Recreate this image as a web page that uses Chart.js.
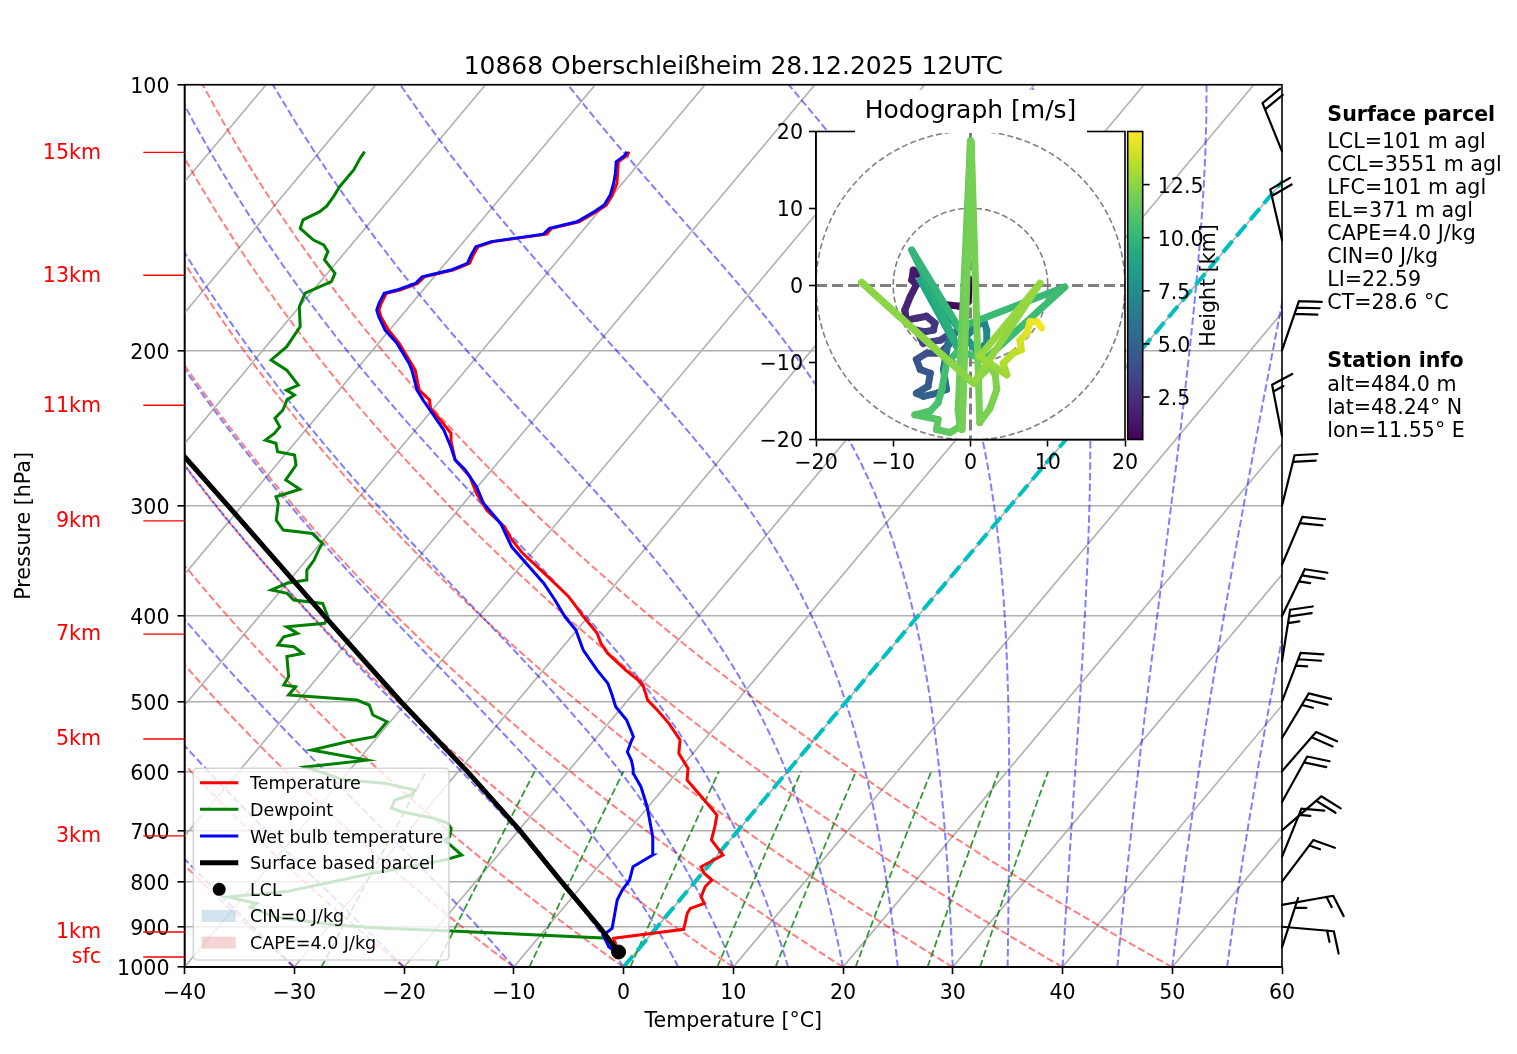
<!DOCTYPE html>
<html>
<head>
<meta charset="utf-8">
<title>Skew-T 10868</title>
<script src="https://cdn.jsdelivr.net/npm/chart.js@4.4.1/dist/chart.umd.min.js"></script>
<style>
  html, body { margin: 0; padding: 0; background: #fff; }
  #wrap { position: relative; width: 1517px; height: 1054px; }
  #wrap canvas { position: absolute; left: 0; top: 0; }
</style>
</head>
<body>
<div id="wrap">
  <canvas id="skewt" width="1517" height="1054"></canvas>
  <canvas id="hodo" width="1517" height="1054"></canvas>
</div>
<script>
// ---- sounding values ----
const tempPressure = [969, 927.6, 917, 906.1, 869, 858, 846.9, 832.5, 810.9, 796.9,
  783.1, 769.7, 746.4, 717.8, 693.4, 672.6, 646.7, 613.8, 595.5, 572.4,
  552.9, 529.3, 513.5, 498.2, 481.2, 472.9, 460.7, 441.1, 429.6, 418.6,
  400.9, 380.4, 370.6, 357.9, 339.7, 328.1, 316.9, 303.4, 290.4, 278,
  266.2, 254.9, 248.4, 239.9, 232.6, 227.7, 221.9, 210.6, 206.8, 196.4,
  189.7, 183.2, 180, 176.9, 172.3, 170.9, 168, 165.1, 162.2, 159.4,
  156, 152.6, 150.6, 147.7, 145.5, 143, 139.3, 136.9, 133.4, 129.3,
  126, 122.3, 120.2, 119.1];
const tempValues = [-1.3, -3.1, -0.4, 2.6, 1.7, 1.6, 2.5, 1.7, 1.3, 1.4,
  0.2, -0.6, 0.5, -1.7, -2.4, -3.1, -5.4, -8.5, -9.3, -11.3,
  -12.2, -14.5, -16.3, -18.2, -19.6, -20.6, -22.5, -25.4, -26.8, -27.9,
  -30.4, -33.3, -35.0, -37.3, -40.8, -42.8, -44.5, -47.4, -49.6, -51.5,
  -54.1, -55.7, -56.5, -58.5, -60.3, -61.0, -62.7, -64.6, -65.5, -68.1,
  -70.1, -71.8, -72.5, -72.8, -73.1, -72.1, -71.0, -70.9, -68.8, -67.8,
  -68.1, -68.3, -67.3, -63.0, -63.0, -61.0, -60.2, -59.8, -60.0, -60.5,
  -61.2, -62.0, -61.7, -61.8];

const dewPressure = [969, 927.6, 910.2, 903.8, 896, 877.5, 855.1, 846.9, 832.5, 821.7,
  803.9, 783.1, 766.3, 756.4, 746.4, 717.8, 711.6, 696.3, 687.2, 678.3,
  666.7, 660.7, 646.7, 638.3, 630.1, 619.1, 613.8, 593.3, 582.7, 567.5,
  555.4, 548.2, 527.1, 518, 504.6, 498.2, 491.7, 481.2, 479.1, 468.8,
  444.7, 441.1, 433.5, 431.5, 422.3, 418.6, 411.4, 407.8, 400.9, 387.1,
  383.7, 377.1, 373.8, 367.3, 364.2, 354.8, 345.7, 335.4, 331, 328.1,
  322.5, 319.7, 311.5, 298.1, 293.1, 287.4, 280.5, 269.8, 262.9, 260.6,
  254.9, 252.8, 248.4, 244.2, 238.8, 233.7, 227.7, 224.7, 221.9, 219,
  210.6, 205.1, 198.1, 188, 178.5, 172.3, 167.2, 163.6, 157.9, 154.6,
  151.9, 150, 145.5, 142.3, 139.3, 137.3, 133.9, 130.5, 124.9, 121.2,
  119.1];
const dewValues = [-1.5, -3.6, -18.4, -24.7, -29.5, -35.6, -38.6, -38.3, -41.4, -36.6,
  -33.6, -30.1, -26.5, -24.5, -23.3, -26.0, -25.8, -26.3, -27.0, -28.6,
  -32.1, -33.3, -33.6, -32.5, -32.5, -35.8, -39.7, -44.3, -39.2, -45.0,
  -42.4, -40.3, -40.3, -42.1, -43.2, -44.7, -51.3, -51.3, -52.5, -52.7,
  -54.4, -53.2, -54.5, -56.1, -56.2, -55.2, -56.7, -53.5, -53.7, -55.2,
  -58.1, -59.2, -60.9, -60.0, -58.5, -59.2, -59.3, -59.7, -59.8, -60.4,
  -61.5, -64.4, -65.8, -66.9, -67.6, -66.0, -68.0, -68.2, -69.1, -70.9,
  -71.7, -72.9, -72.6, -72.6, -73.7, -73.6, -74.0, -73.7, -74.8, -74.1,
  -76.3, -78.5, -78.1, -78.4, -80.0, -80.5, -79.0, -79.3, -81.3, -81.6,
  -82.5, -83.8, -85.9, -86.3, -85.4, -85.2, -85.3, -85.5, -85.5, -85.8,
  -85.9];

const wetPressure = [969, 948.2, 919.7, 903.8, 884.3, 839.4, 818, 796.9, 769.7, 746.4,
  711.6, 658, 624.5, 603.3, 595.5, 582.7, 570.2, 552.9, 548.2, 524.8,
  507, 489.6, 477, 460.7, 437.2, 415, 400.9, 383.7, 367.3, 348.8,
  334, 314.2, 298.1, 285.5, 273.3, 266.2, 257.2, 246.3, 227.7, 221.9,
  210.6, 206.8, 196.4, 189.7, 183.2, 180, 176.9, 172.3, 170.9, 168,
  165.1, 162.2, 159.4, 156, 152.6, 150.6, 147.7, 145.5, 143, 139.3,
  136.9, 133.4, 129.3, 126, 122.3, 120.2, 119.1];
const wetValues = [-1.3, -2.9, -4.3, -4.0, -4.5, -5.7, -6.0, -6.1, -6.8, -5.9,
  -7.3, -10.1, -12.2, -13.9, -14.3, -15.1, -16.1, -16.6, -16.7, -18.6,
  -20.6, -22.0, -23.1, -25.1, -27.9, -30.1, -32.1, -34.3, -36.6, -39.7,
  -42.3, -45.1, -48.2, -50.1, -52.4, -54.1, -55.5, -57.4, -61.6, -62.9,
  -64.9, -65.7, -68.3, -70.4, -72.0, -72.7, -73.0, -73.3, -72.4, -71.2,
  -71.1, -69.0, -68.0, -68.3, -68.5, -67.5, -63.3, -63.2, -61.2, -60.4,
  -60.0, -60.2, -60.8, -61.4, -62.2, -61.9, -62.0];

const parcelPressure = [969, 961.4, 900, 800, 700, 600, 500, 400, 300, 264, 230];
const parcelValues = [-1.1, -1.6, -5.3, -12.2, -19.9, -29.2, -40.6, -54.1, -71.3, -79.0, -87.3];
const lclPressure = [961.4];
const lclValues = [-1.6];

// wind barbs (knots, direction wind comes from)
const windPressure = [119, 150, 200, 250, 300, 350, 400, 450, 500, 550, 600, 650, 700, 750, 800, 850, 900, 950];
const windDir = [338, 347, 19, 349, 14, 23, 26, 9, 21, 31, 41, 29, 49, 22, 37, 80, 95, 18];
const windSpeed = [20, 20, 30, 15, 20, 20, 25, 25, 25, 25, 20, 20, 20, 15, 15, 15, 15, 5];

// hodograph (m/s) with height (km)
const hodoHeight = [0.5, 0.65, 0.8, 0.95, 1.1, 1.25, 1.4, 1.55, 1.7, 1.8,
  1.95, 2.1, 2.25, 2.4, 2.55, 2.7, 2.85, 3.0, 3.15, 3.3,
  3.45, 3.6, 3.75, 3.9, 4.05, 4.2, 4.35, 4.5, 4.7, 4.9,
  5.1, 5.3, 5.5, 5.7, 5.9, 6.2, 6.6, 7.0, 7.3, 7.6,
  8.2, 9.2, 9.6, 10.0, 10.2, 10.4, 10.5, 10.55, 10.6, 10.7,
  10.8, 10.95, 11.05, 11.3, 11.4, 11.5, 11.6, 11.7, 11.8, 11.9,
  12.0, 12.1, 12.15, 12.2, 12.25, 12.3, 12.4, 12.5, 12.6, 12.7,
  12.8, 13.0, 13.3, 13.6, 13.9, 14.1, 14.3, 14.6, 14.8, 15.0];
const hodoU = [-0.1, -0.3, -1.4, -3.1, -4.4, -5.5, -6.6, -7.4, -7.6, -7.0,
  -7.8, -8.5, -8.3, -7.0, -5.7, -4.6, -4.8, -5.9, -7.0, -6.1,
  -3.9, -3.1, -2.65, -3.95, -5.7, -7.0, -6.5, -5.2, -5.5, -7.0,
  -6.1, -4.4, -3.1, -3.5, -2.9, -1.4, -0.5, 1.7, 2.1, 2.1,
  0.8, -6.5, -0.9, -7.6, -1.5, 12.2, 1.9, -1.6, -3.1, -3.7,
  -4.2, -5.2, -7.2, -4.2, -4.4, -2.65, -1.36, -1.6, 0.0, -1.1,
  0.1, 1.2, 2.5, 3.4, 3.2, 2.5, 0.4, -14.1, 0.4, 9.0,
  1.2, 4.7, 4.25, 5.5, 6.6, 6.4, 7.3, 7.7, 8.6, 9.2];
const hodoV = [0.7, -2.1, -2.7, -2.5, -2.1, -0.5, 1.2, 2.0, 0.7, 0.1,
  -1.45, -3.2, -4.5, -4.25, -4.0, -4.9, -5.8, -6.0, -5.8, -7.5,
  -7.1, -6.6, -7.5, -8.8, -8.8, -9.6, -10.9, -11.4, -13.1, -14.0,
  -14.4, -14.0, -13.5, -10.9, -7.5, -5.3, -6.5, -4.5, -5.8, -7.5,
  -8.5, 0.7, -9.6, 4.6, -5.5, -0.2, -9.6, -8.5, -10.1, -13.5,
  -15.2, -16.3, -16.8, -17.4, -18.7, -19.1, -18.3, -16.1, 18.8, -18.7,
  18.6, -17.8, -16.0, -13.5, -11.6, -10.5, -12.7, 0.4, -12.7, 0.3,
  -9.2, -11.6, -10.1, -8.8, -8.35, -7.1, -6.2, -4.7, -4.7, -5.5];

// axes, reference lines, labels
const xTicks = [-40, -30, -20, -10, 0, 10, 20, 30, 40, 50, 60];
const pressureTicks = [100, 200, 300, 400, 500, 600, 700, 800, 900, 1000];
const isothermT = [-100, -90, -80, -70, -60, -50, -40, -30, -20, -10, 0, 10, 20, 30, 40, 50, 60];
const dryAdiabatTheta = [-40, -30, -20, -10, 0, 10, 20, 30, 40, 50];
const moistAdiabatT0 = [-40, -30, -20, -10, 0, 5, 10, 15, 20, 25, 30, 35, 40, 45, 50, 55, 60];
const mixingRatios = [0.0004, 0.001, 0.002, 0.004, 0.007, 0.01, 0.016, 0.024, 0.032];
const kmLabels = ['15km', '13km', '11km', '9km', '7km', '5km', '3km', '1km', 'sfc'];
const kmPressure = [119.3, 164.4, 230.8, 312.1, 419.4, 551.4, 710.1, 912.4, 973.9];
const hodoTicks = [-20, -10, 0, 10, 20];
const colorbarTicks = [2.5, 5.0, 7.5, 10.0, 12.5];
const parcelInfo = ['LCL=101 m agl', 'CCL=3551 m agl', 'LFC=101 m agl', 'EL=371 m agl',
  'CAPE=4.0 J/kg', 'CIN=0 J/kg', 'LI=22.59', 'CT=28.6 \u00b0C'];
const stationInfo = ['alt=484.0 m', 'lat=48.24\u00b0 N', 'lon=11.55\u00b0 E'];
const titleText = '10868 Oberschlei\u00dfheim 28.12.2025 12UTC';

// ---- helpers ----
const FONT = "'DejaVu Sans', 'Liberation Sans', sans-serif";
const FS = 20.6;                 // regular label size
const SKEW = 67.43;              // deg C of x shift per decade of pressure
const KAPPA = 0.28571;
const Rd = 287.04749, Lv = 2.50084e6, Cpd = 1004.6662, EPS = 0.6219569;

function skewX(t, p) { return t + SKEW * Math.log10(1000 / p); }
function minus(v) { return v < 0 ? '\u2212' + Math.abs(v) : String(v); }
function profile(ps, ts) { return ps.map((p, i) => ({ x: skewX(ts[i], p), y: p })); }

function satVap(tK) { return 6.112 * Math.exp(17.67 * (tK - 273.15) / (tK - 29.65)); }
function moistSlope(p, tK) {
  const es = satVap(tK);
  const rs = EPS * es / (p - es);
  return (Rd * tK + Lv * rs) / (Cpd + Lv * Lv * rs * EPS / (Rd * tK * tK)) / p;
}
function moistAdiabat(t0) {
  let t = t0 + 273.15;
  const pts = [];
  for (let p = 1000; p >= 100; p -= 10) {
    pts.push({ x: skewX(t - 273.15, p), y: p });
    const h = -10;
    const k1 = moistSlope(p, t);
    const k2 = moistSlope(p + h / 2, t + h / 2 * k1);
    const k3 = moistSlope(p + h / 2, t + h / 2 * k2);
    const k4 = moistSlope(p + h, t + h * k3);
    t += h / 6 * (k1 + 2 * k2 + 2 * k3 + k4);
  }
  return pts;
}
function dryAdiabat(th) {
  const pts = [];
  for (let p = 1000; p >= 100; p -= 10) {
    pts.push({ x: skewX((th + 273.15) * Math.pow(p / 1000, KAPPA) - 273.15, p), y: p });
  }
  return pts;
}
function mixingLine(w) {
  const pts = [];
  for (let p = 1000; p >= 600; p -= 25) {
    const e = p * w / (EPS + w);
    const l = Math.log(e / 6.112);
    pts.push({ x: skewX(243.5 * l / (17.67 - l), p), y: p });
  }
  return pts;
}

function line(points, color, width, dash, order) {
  return { data: points, showLine: true, borderColor: color, borderWidth: width, borderDash: dash,
    pointRadius: 0, fill: false, tension: 0, order: order, clip: 0 };
}

const VIRIDIS = ['#440154', '#482475', '#414487', '#355f8d', '#2a788e', '#21918c',
  '#22a884', '#44bf70', '#7ad151', '#bddf26', '#fde725'];
function viridis(f) {
  f = Math.max(0, Math.min(1, f));
  const s = f * (VIRIDIS.length - 1), i = Math.min(Math.floor(s), VIRIDIS.length - 2), r = s - i;
  const a = parseInt(VIRIDIS[i].slice(1), 16), b = parseInt(VIRIDIS[i + 1].slice(1), 16);
  const mix = sh => Math.round(((a >> sh) & 255) * (1 - r) + ((b >> sh) & 255) * r);
  return 'rgb(' + mix(16) + ',' + mix(8) + ',' + mix(0) + ')';
}
const hMin = Math.min(...hodoHeight), hMax = Math.max(...hodoHeight);

// ---- skew-T datasets ----
const datasets = [];
isothermT.forEach(t => datasets.push(line([{ x: skewX(t, 1000), y: 1000 }, { x: skewX(t, 100), y: 100 }], '#b0b0b0', 1.6, [], 20)));
dryAdiabatTheta.forEach(th => datasets.push(line(dryAdiabat(th), 'rgba(255,0,0,0.5)', 2, [7.4, 3.2], 19)));
moistAdiabatT0.forEach(t0 => datasets.push(line(moistAdiabat(t0), 'rgba(0,0,255,0.5)', 2, [7.4, 3.2], 18)));
mixingRatios.forEach(w => datasets.push(line(mixingLine(w), 'rgba(0,128,0,0.8)', 1.8, [7.4, 3.2], 17)));
datasets.push(line([{ x: 0, y: 1000 }, { x: skewX(0, 100), y: 100 }], '#00bfbf', 4, [14.8, 6.4], 10));
datasets.push(line(profile(dewPressure, dewValues), '#008000', 3, [], 6));
datasets.push(line(profile(tempPressure, tempValues), '#ff0000', 3, [], 5));
datasets.push(line(profile(wetPressure, wetValues), '#0000ff', 3, [], 4));
datasets.push(line(profile(parcelPressure, parcelValues), '#000000', 5, [], 3));
datasets.push({ data: profile(lclPressure, lclValues), showLine: false, pointRadius: 7,
  pointBackgroundColor: '#000', pointBorderColor: '#000', order: 1, clip: 0 });

const legendItems = [
  { label: 'Temperature', type: 'line', color: '#ff0000', width: 3 },
  { label: 'Dewpoint', type: 'line', color: '#008000', width: 3 },
  { label: 'Wet bulb temperature', type: 'line', color: '#0000ff', width: 3 },
  { label: 'Surface based parcel', type: 'line', color: '#000000', width: 5 },
  { label: 'LCL', type: 'dot', color: '#000000' },
  { label: 'CIN=0 J/kg', type: 'patch', color: 'rgba(31,119,180,0.2)' },
  { label: 'CAPE=4.0 J/kg', type: 'patch', color: 'rgba(214,39,40,0.2)' }
];

function drawBarb(ctx, bx, by, dir, kt) {
  const L = 52, r = dir * Math.PI / 180;
  const sx = Math.sin(r), sy = -Math.cos(r);
  const px = -sy, py = sx;
  const H = 0.42 * L, A = 0.13 * L, sp = 0.13 * L;
  const spd = Math.round(kt / 5) * 5;
  const nFull = Math.floor(spd / 10), half = spd % 10 >= 5;
  ctx.beginPath();
  ctx.moveTo(bx, by);
  ctx.lineTo(bx + sx * L, by + sy * L);
  let off = L;
  for (let i = 0; i < nFull; i++) {
    const ox = bx + sx * off, oy = by + sy * off;
    ctx.moveTo(ox, oy);
    ctx.lineTo(ox + px * H + sx * A, oy + py * H + sy * A);
    off -= sp;
  }
  if (half) {
    if (nFull === 0) off -= 1.5 * sp;
    const ox = bx + sx * off, oy = by + sy * off;
    ctx.moveTo(ox, oy);
    ctx.lineTo(ox + px * H / 2 + sx * A / 2, oy + py * H / 2 + sy * A / 2);
  }
  ctx.stroke();
}

const skewDecor = {
  id: 'skewDecor',
  afterDatasetsDraw(chart) {
    const { ctx, chartArea: a } = chart;
    ctx.save();
    ctx.strokeStyle = '#000';
    ctx.lineWidth = 1.6;
    ctx.strokeRect(a.left, a.top, a.right - a.left, a.bottom - a.top);

    // legend box
    const lx = 193.3, ly = 768.3, lw = 255.7, lh = 191.7;
    ctx.beginPath();
    ctx.roundRect(lx, ly, lw, lh, 4);
    ctx.fillStyle = 'rgba(255,255,255,0.8)';
    ctx.fill();
    ctx.strokeStyle = 'rgba(204,204,204,0.8)';
    ctx.lineWidth = 1.6;
    ctx.stroke();
    ctx.font = '17.5px ' + FONT;
    ctx.textBaseline = 'middle';
    ctx.textAlign = 'left';
    legendItems.forEach((it, i) => {
      const y = 782.7 + i * 26.65;
      if (it.type === 'line') {
        ctx.strokeStyle = it.color;
        ctx.lineWidth = it.width;
        ctx.beginPath(); ctx.moveTo(200, y); ctx.lineTo(238.3, y); ctx.stroke();
      } else if (it.type === 'dot') {
        ctx.fillStyle = it.color;
        ctx.beginPath(); ctx.arc(219.2, y, 6.5, 0, Math.PI * 2); ctx.fill();
      } else {
        ctx.fillStyle = it.color;
        ctx.fillRect(201.7, y - 6, 34, 12);
      }
      ctx.fillStyle = '#000';
      ctx.fillText(it.label, 250, y + 2);
    });
    ctx.restore();
  },
  afterDraw(chart) {
    const { ctx, chartArea: a, scales: { y } } = chart;
    ctx.save();
    ctx.fillStyle = '#000';
    ctx.textBaseline = 'middle';
    ctx.textAlign = 'center';
    ctx.font = '25px ' + FONT;
    ctx.fillText(titleText, (a.left + a.right) / 2, 67);

    // height labels
    ctx.font = FS + 'px ' + FONT;
    ctx.textAlign = 'right';
    ctx.fillStyle = '#ff0000';
    ctx.strokeStyle = '#ff0000';
    ctx.lineWidth = 1.4;
    kmLabels.forEach((lab, i) => {
      const py = y.getPixelForValue(kmPressure[i]);
      ctx.beginPath(); ctx.moveTo(143.3, py); ctx.lineTo(a.left, py); ctx.stroke();
      ctx.fillText(lab, 101, py + 1);
    });

    // wind barbs
    ctx.strokeStyle = '#000';
    ctx.lineWidth = 2.2;
    ctx.lineCap = 'round';
    windPressure.forEach((p, i) => drawBarb(ctx, a.right, y.getPixelForValue(p), windDir[i], windSpeed[i]));

    // parcel / station text
    ctx.fillStyle = '#000';
    ctx.textAlign = 'left';
    ctx.font = 'bold ' + FS + 'px ' + FONT;
    ctx.fillText('Surface parcel', 1327.3, 116);
    ctx.fillText('Station info', 1327.3, 361.3);
    ctx.font = FS + 'px ' + FONT;
    parcelInfo.forEach((t, i) => ctx.fillText(t, 1327.3, 142.7 + i * 23));
    stationInfo.forEach((t, i) => ctx.fillText(t, 1327.3, 385.3 + i * 23));
    ctx.restore();
  }
};

new Chart(document.getElementById('skewt'), {
  type: 'scatter',
  data: { datasets: datasets },
  options: {
    responsive: false, animation: false, devicePixelRatio: 1, events: [],
    layout: { padding: { left: 0, top: 84.7, right: 235, bottom: 0 } },
    plugins: { legend: { display: false }, tooltip: { enabled: false } },
    scales: {
      x: {
        type: 'linear', min: -40, max: 60,
        afterBuildTicks: s => { s.ticks = xTicks.map(v => ({ value: v })); },
        afterFit: s => { s.height = 1054 - 967.1; },
        ticks: { autoSkip: false, maxRotation: 0, padding: 7, color: '#000',
          font: { family: FONT, size: FS }, callback: v => minus(v) },
        grid: { drawOnChartArea: false, tickLength: 7, tickColor: '#000', tickWidth: 1.6 },
        border: { color: '#000', width: 1.6 },
        title: { display: true, text: 'Temperature [\u00b0C]', color: '#000',
          font: { family: FONT, size: FS }, padding: { top: 0, bottom: 20 } }
      },
      y: {
        type: 'logarithmic', min: 100, max: 1000, reverse: true,
        afterBuildTicks: s => { s.ticks = pressureTicks.map(v => ({ value: v })); },
        afterFit: s => { s.width = 184.5; },
        ticks: { autoSkip: false, padding: 8, labelOffset: 3, color: '#000',
          font: { family: FONT, size: FS }, callback: v => String(v) },
        grid: { color: '#b0b0b0', lineWidth: 1.6, tickLength: 7, tickColor: '#000', tickWidth: 1.6 },
        border: { color: '#000', width: 1.6 },
        title: { display: true, text: 'Pressure [hPa]', color: '#000',
          font: { family: FONT, size: FS }, padding: { top: 12, bottom: 0 } }
      }
    }
  },
  plugins: [skewDecor]
});

// ---- hodograph inset ----
const hodoPoints = hodoU.map((u, i) => ({ x: u, y: hodoV[i] }));

const hodoDecor = {
  id: 'hodoDecor',
  beforeDraw(chart) {
    const { ctx, chartArea: a } = chart;
    ctx.save();
    ctx.fillStyle = '#fff';
    ctx.fillRect(a.left, a.top, a.right - a.left, a.bottom - a.top);
    ctx.restore();
  },
  beforeDatasetsDraw(chart) {
    const { ctx, chartArea: a, scales: { x, y } } = chart;
    const cx = x.getPixelForValue(0), cy = y.getPixelForValue(0);
    ctx.save();
    ctx.beginPath();
    ctx.rect(a.left, a.top, a.right - a.left, a.bottom - a.top);
    ctx.clip();
    ctx.strokeStyle = '#808080';
    ctx.lineWidth = 1.6;
    ctx.setLineDash([6, 3]);
    [10, 20].forEach(r => {
      const rp = x.getPixelForValue(r) - cx;
      ctx.beginPath(); ctx.arc(cx, cy, rp, 0, Math.PI * 2); ctx.stroke();
    });
    ctx.lineWidth = 3;
    ctx.setLineDash([11, 5]);
    ctx.beginPath();
    ctx.moveTo(a.left, cy); ctx.lineTo(a.right, cy);
    ctx.moveTo(cx, a.top); ctx.lineTo(cx, a.bottom);
    ctx.stroke();
    ctx.restore();
  },
  afterDatasetsDraw(chart) {
    const { ctx, chartArea: a } = chart;
    ctx.save();
    ctx.strokeStyle = '#000';
    ctx.lineWidth = 1.6;
    ctx.strokeRect(a.left, a.top, a.right - a.left, a.bottom - a.top);
    ctx.restore();
  },
  afterDraw(chart) {
    const { ctx, chartArea: a } = chart;
    ctx.save();
    // title with white box
    ctx.fillStyle = '#fff';
    ctx.fillRect(855, 90, 232, 43);
    ctx.fillStyle = '#000';
    ctx.font = '25px ' + FONT;
    ctx.textAlign = 'center';
    ctx.textBaseline = 'middle';
    ctx.fillText('Hodograph [m/s]', (a.left + a.right) / 2, 111);

    // colorbar
    const cbL = a.right + 2.7, cbR = a.right + 17.7, cbT = a.top, cbB = a.bottom;
    const grad = ctx.createLinearGradient(0, cbB, 0, cbT);
    for (let k = 0; k <= 20; k++) grad.addColorStop(k / 20, viridis(k / 20));
    ctx.fillStyle = grad;
    ctx.fillRect(cbL, cbT, cbR - cbL, cbB - cbT);
    ctx.strokeStyle = '#000';
    ctx.lineWidth = 1.6;
    ctx.strokeRect(cbL, cbT, cbR - cbL, cbB - cbT);
    ctx.font = FS + 'px ' + FONT;
    ctx.textAlign = 'left';
    ctx.fillStyle = '#000';
    colorbarTicks.forEach(v => {
      const py = cbB - (v - hMin) / (hMax - hMin) * (cbB - cbT);
      ctx.beginPath(); ctx.moveTo(cbR, py); ctx.lineTo(cbR + 7, py); ctx.stroke();
      ctx.fillText(v.toFixed(1), cbR + 15, py + 3);
    });
    ctx.translate(1210, (cbT + cbB) / 2);
    ctx.rotate(-Math.PI / 2);
    ctx.textAlign = 'center';
    ctx.fillText('Height [km]', 0, 0);
    ctx.restore();
  }
};

new Chart(document.getElementById('hodo'), {
  type: 'line',
  data: {
    datasets: [{
      data: hodoPoints, borderWidth: 7, pointRadius: 0, fill: false, tension: 0, clip: 0,
      borderCapStyle: 'round', borderJoinStyle: 'round', borderColor: viridis(0.5),
      segment: { borderColor: c => viridis((hodoHeight[c.p0DataIndex] - hMin) / (hMax - hMin)) }
    }]
  },
  options: {
    responsive: false, animation: false, devicePixelRatio: 1, events: [],
    layout: { padding: { left: 700, top: 131.5, right: 392, bottom: 574.5 } },
    plugins: { legend: { display: false }, tooltip: { enabled: false } },
    scales: {
      x: {
        type: 'linear', min: -20, max: 20,
        afterBuildTicks: s => { s.ticks = hodoTicks.map(v => ({ value: v })); },
        afterFit: s => { s.height = 40; },
        ticks: { autoSkip: false, maxRotation: 0, padding: 5, color: '#000',
          font: { family: FONT, size: FS }, callback: v => minus(v) },
        grid: { drawOnChartArea: false, tickLength: 7, tickColor: '#000', tickWidth: 1.6 },
        border: { color: '#000', width: 1.6 }
      },
      y: {
        type: 'linear', min: -20, max: 20,
        afterBuildTicks: s => { s.ticks = hodoTicks.map(v => ({ value: v })); },
        afterFit: s => { s.width = 116; },
        ticks: { autoSkip: false, padding: 6, labelOffset: 2, color: '#000',
          font: { family: FONT, size: FS }, callback: v => minus(v) },
        grid: { drawOnChartArea: false, tickLength: 7, tickColor: '#000', tickWidth: 1.6 },
        border: { color: '#000', width: 1.6 }
      }
    }
  },
  plugins: [hodoDecor]
});
</script>
</body>
</html>
